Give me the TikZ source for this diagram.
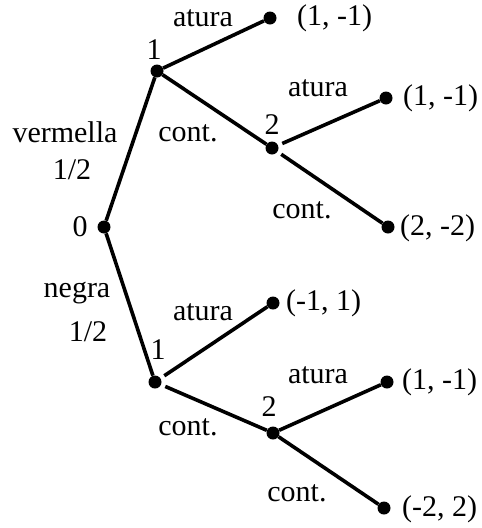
\documentclass[tikz,border=0pt]{standalone}
\usepackage{fontspec}
\setmainfont{Liberation Serif}
\begin{document}
\begin{tikzpicture}[x=1pt,y=-1pt,
  dot/.style={circle,fill=black,inner sep=0pt,minimum size=13pt},
  lbl/.style={inner sep=0pt,font=\fontsize{30}{36}\selectfont},
  edge/.style={line width=3.6pt},
  gap/.style={shorten <=4.5pt}]
\useasboundingbox (0,0) rectangle (482,528);
% decision nodes
\node[dot] (r)  at (104,227) {};
\node[dot] (a1) at (157,71) {};
\node[dot] (a2) at (272,148) {};
\node[dot] (b1) at (155,382) {};
\node[dot] (b2) at (273,433) {};
% leaves
\node[dot] (l1) at (270,18) {};
\node[dot] (l2) at (386,98) {};
\node[dot] (l3) at (388,227) {};
\node[dot] (l4) at (273,303) {};
\node[dot] (l5) at (387,382) {};
\node[dot] (l6) at (384,508) {};
% edges
\draw[edge] (r) -- (a1);
\draw[edge] (r) -- (b1);
\draw[edge] (a1) -- (l1);
\draw[edge] (a1) -- (a2);
\draw[edge,gap] (a2) -- (l2);
\draw[edge,gap] (a2) -- (l3);
\draw[edge,gap] (b1) -- (l4);
\draw[edge,gap] (b1) -- (b2);
\draw[edge] (b2) -- (l5);
\draw[edge] (b2) -- (l6);
% node labels
\node[lbl] (t0) at (80,227) {0};
\node[lbl] (ta1) at (154,50) {1};
\node[lbl] (ta2) at (272,125) {2};
\node[lbl] (tb1) at (158,350) {1};
\node[lbl] (tb2) at (269,407) {2};
% leaf labels
\node[lbl,anchor=west] (p1) at (297,18) {(1, -1)};
\node[lbl,anchor=west] (p2) at (403,98) {(1, -1)};
\node[lbl,anchor=west] (p3) at (400,228) {(2, -2)};
\node[lbl,anchor=west] (p4) at (286,303) {(-1, 1)};
\node[lbl,anchor=west] (p5) at (402,382) {(1, -1)};
\node[lbl,anchor=west] (p6) at (402,509) {(-2, 2)};
% edge labels
\node[lbl] (e1) at (65,132) {vermella};
\node[lbl] (e2) at (72,170) {1/2};
\node[lbl] (e3) at (77,293) {negra};
\node[lbl] (e4) at (88,332) {1/2};
\node[lbl] (e5) at (203,18) {atura};
\node[lbl] (e6) at (188,133) {cont.};
\node[lbl] (e7) at (318,88) {atura};
\node[lbl] (e8) at (302,210) {cont.};
\node[lbl] (e9) at (203,312) {atura};
\node[lbl] (e10) at (188,427) {cont.};
\node[lbl] (e11) at (318,375) {atura};
\node[lbl] (e12) at (297,493) {cont.};
\end{tikzpicture}
\end{document}
